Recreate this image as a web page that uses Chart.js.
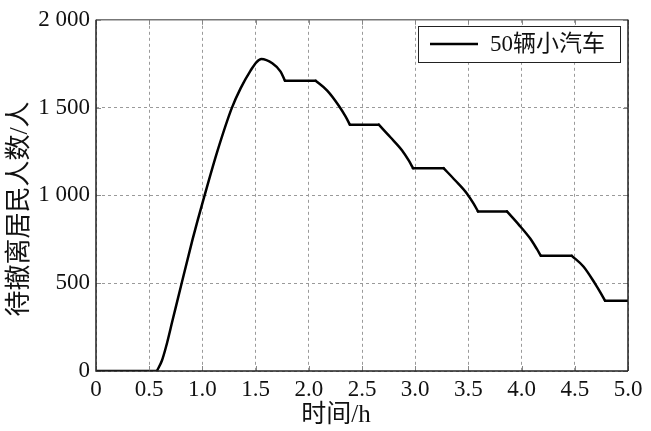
<!DOCTYPE html>
<html>
<head>
<meta charset="utf-8">
<script src="https://cdn.jsdelivr.net/npm/chart.js@4/dist/chart.umd.min.js"></script>
<style>
html,body{margin:0;padding:0;background:#fff;}
#wrap{width:651px;height:431px;}
</style>
</head>
<body>
<div id="wrap"><canvas id="c" width="651" height="431"></canvas></div>
<script>
const seriesLabel = "50辆小汽车";
const xTitle = "时间/h";
const yTitle = "待撤离居民人数/人";
const xTicks = [0, 0.5, 1.0, 1.5, 2.0, 2.5, 3.0, 3.5, 4.0, 4.5, 5.0];
const yTicks = [0, 500, 1000, 1500, 2000];
const times = [0, 0.572, 0.62, 0.657, 0.72, 0.797, 0.907, 0.954, 1.016, 1.141, 1.276, 1.36, 1.454, 1.507, 1.554, 1.657, 1.735, 1.776,
  2.064, 2.173, 2.282, 2.345, 2.386,
  2.658, 2.767, 2.877, 2.939, 2.98,
  3.267, 3.377, 3.487, 3.549, 3.59,
  3.862, 3.971, 4.081, 4.143, 4.181,
  4.472, 4.581, 4.69, 4.744, 4.784, 5.0];
const values = [0, 0, 60, 135, 290, 480, 748, 855, 990, 1252, 1497, 1611, 1712, 1758, 1777, 1752, 1705, 1653,
  1653, 1597, 1511, 1450, 1403,
  1403, 1331, 1256, 1199, 1155,
  1155, 1085, 1010, 953, 909,
  909, 835, 754, 695, 656,
  656, 595, 498, 444, 400, 400];
// times where the curve has a corner (start/end of each flat stretch)
const cornerTimes = [0.572, 1.776, 2.064, 2.386, 2.658, 2.98, 3.267, 3.59, 3.862, 4.181, 4.472, 4.784];

const FONT = "'Liberation Serif', 'Noto Sans CJK SC', serif";
const points = times.map((t, i) => ({x: t, y: values[i]}));

// split the series at its corners so each smooth piece is interpolated separately
const pieces = [];
let cur = [];
points.forEach(p => {
  cur.push(p);
  if (cornerTimes.includes(p.x)) { pieces.push(cur); cur = [p]; }
});
if (cur.length > 1) pieces.push(cur);

const datasets = pieces.map(pc => ({
  label: seriesLabel,
  data: pc,
  borderColor: '#000',
  borderWidth: 2.5,
  pointRadius: 0,
  fill: false,
  borderCapStyle: 'round',
  borderJoinStyle: 'round',
  cubicInterpolationMode: 'monotone'
}));

const framePlugin = {
  id: 'frame',
  afterDraw(chart) {
    const {ctx, chartArea: a, scales} = chart;
    ctx.save();
    ctx.strokeStyle = '#888';
    ctx.lineWidth = 1;
    ctx.beginPath();
    xTicks.forEach(v => {
      const px = Math.round(scales.x.getPixelForValue(v)) + 0.5;
      ctx.moveTo(px, a.top); ctx.lineTo(px, a.top + 5);
      ctx.moveTo(px, a.bottom); ctx.lineTo(px, a.bottom - 5);
    });
    yTicks.forEach(v => {
      const py = Math.round(scales.y.getPixelForValue(v)) + 0.5;
      ctx.moveTo(a.right, py); ctx.lineTo(a.right - 5, py);
      ctx.moveTo(a.left, py); ctx.lineTo(a.left + 5, py);
    });
    ctx.stroke();
    ctx.lineWidth = 1.5;
    ctx.strokeStyle = '#777';
    ctx.beginPath();
    ctx.moveTo(a.left, a.top); ctx.lineTo(a.right, a.top);
    ctx.stroke();
    ctx.strokeStyle = '#222';
    ctx.beginPath();
    ctx.moveTo(a.right, a.top); ctx.lineTo(a.right, a.bottom);
    ctx.moveTo(a.left, a.top); ctx.lineTo(a.left, a.bottom);
    ctx.lineTo(a.right, a.bottom);
    ctx.stroke();
    // axis titles
    ctx.fillStyle = '#111';
    ctx.font = "25px " + FONT;
    ctx.textAlign = 'center';
    ctx.textBaseline = 'middle';
    ctx.fillText(xTitle, 336, 415);
    ctx.save();
    ctx.translate(20, 209);
    ctx.rotate(-Math.PI / 2);
    ctx.font = "26px " + FONT;
    ctx.fillText(yTitle, 0, 0);
    ctx.restore();
    // legend
    const lx = 418, ly = 26, lw = 202, lh = 36;
    ctx.fillStyle = '#fff';
    ctx.fillRect(lx, ly, lw, lh);
    ctx.strokeStyle = '#222';
    ctx.lineWidth = 1;
    ctx.strokeRect(lx + 0.5, ly + 0.5, lw, lh);
    ctx.strokeStyle = '#000';
    ctx.lineWidth = 2.5;
    ctx.beginPath();
    ctx.moveTo(lx + 12, ly + 18); ctx.lineTo(lx + 60, ly + 18);
    ctx.stroke();
    ctx.fillStyle = '#111';
    ctx.font = "23px " + FONT;
    ctx.textBaseline = 'middle';
    ctx.textAlign = 'left';
    ctx.fillText(chart.data.datasets[0].label, lx + 72, ly + 19);
    ctx.restore();
  }
};

new Chart(document.getElementById('c'), {
  type: 'line',
  data: {datasets},
  options: {
    responsive: false,
    animation: false,
    layout: {padding: {top: 18, right: 23, left: 0, bottom: 0}},
    plugins: {legend: {display: false}, tooltip: {enabled: false}},
    scales: {
      x: {
        type: 'linear',
        min: 0, max: 5,
        afterBuildTicks(s) { s.ticks = xTicks.map(v => ({value: v})); },
        afterFit(s) { s.height = 60; },
        ticks: {
          color: '#111',
          font: {family: FONT, size: 23},
          padding: 5,
          maxRotation: 0,
          callback: v => v === 0 ? '0' : v.toFixed(1)
        },
        grid: {color: '#9a9a9a', lineWidth: 1, drawTicks: false, tickLength: 0},
        border: {display: false, dash: [3, 3]},
        title: {display: false}
      },
      y: {
        min: 0, max: 2000,
        afterBuildTicks(s) { s.ticks = yTicks.map(v => ({value: v})); },
        afterFit(s) { s.width = 96; },
        ticks: {
          color: '#111',
          font: {family: FONT, size: 23},
          padding: 6,
          callback: v => v >= 1000 ? Math.floor(v / 1000) + ' ' + String(v % 1000).padStart(3, '0') : String(v)
        },
        grid: {color: '#9a9a9a', lineWidth: 1, drawTicks: false, tickLength: 0},
        border: {display: false, dash: [3, 3]},
        title: {display: false}
      }
    }
  },
  plugins: [framePlugin]
});
</script>
</body>
</html>
